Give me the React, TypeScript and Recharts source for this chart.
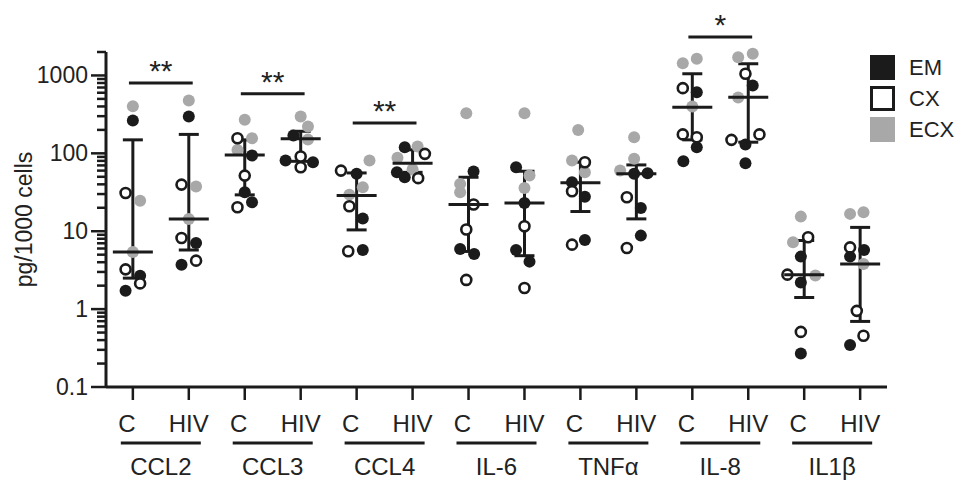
import { ScatterChart, Scatter, XAxis, YAxis, ErrorBar, ReferenceLine, Legend } from "recharts";

const groups = ["CCL2", "CCL3", "CCL4", "IL-6", "TNFα", "IL-8", "IL1β"];
const conditions = ["C", "HIV"];

// x = column (1..14, C/HIV per cytokine) plus the beeswarm offset, y = pg/1000 cells
const emPoints: [number, number][] = [
  [1, 264], [1.13, 2.69], [0.87, 1.72],
  [2, 297], [2.13, 7.07], [1.87, 3.72],
  [3.13, 93.7], [3, 31.6], [3.13, 23.5],
  [3.87, 169], [3.73, 80.8], [4.22, 76.9],
  [5, 54.5], [5.11, 14.6], [5.11, 5.75],
  [5.86, 120], [5.72, 57], [5.86, 49.3],
  [7.09, 58.4], [6.85, 5.92], [7.1, 5.1],
  [7.85, 66.3], [8, 23.1], [7.85, 5.75], [8.09, 4.07],
  [8.85, 42.5], [9.08, 27.8], [9.08, 7.73],
  [9.96, 54.5], [10.2, 55.5], [10.08, 19.9], [10.08, 8.78],
  [11.08, 610], [11.08, 120], [10.84, 79.2],
  [12.08, 744], [11.95, 130], [11.95, 74.6],
  [12.94, 4.72], [12.94, 2.2], [12.94, 0.27],
  [14.07, 5.75], [13.82, 4.72], [13.82, 0.345],
];

const cxPoints: [number, number][] = [
  [0.87, 31], [0.87, 3.24], [1.13, 2.14],
  [1.87, 39.7], [1.87, 8.2], [2.13, 4.19],
  [2.87, 156], [3, 51.8], [2.87, 20.3],
  [4, 91], [4, 66.3],
  [4.72, 60], [4.87, 20.9], [4.85, 5.52],
  [6.22, 98.5], [6.1, 48],
  [7.09, 22], [6.96, 10.5], [6.96, 2.37],
  [8, 11.6], [8, 1.87],
  [9.08, 76.9], [8.85, 32.6], [8.85, 6.72],
  [9.83, 27.3], [9.83, 6.1],
  [10.83, 687], [10.83, 175], [11.08, 161],
  [11.95, 1051], [11.7, 149], [12.2, 175],
  [13.07, 8.35], [12.7, 2.77], [12.94, 0.51],
  [13.82, 6.2], [13.94, 0.95], [14.06, 0.455],
];

const ecxPoints: [number, number][] = [
  [1, 403], [1.13, 24.7], [1, 5.4],
  [2, 477], [2.13, 37.4], [2, 14.4],
  [3, 269], [3.13, 156], [2.87, 110],
  [4, 297], [4.13, 221], [4.13, 150],
  [5.23, 80.7], [5.11, 36.7], [4.87, 29.5],
  [6.09, 122], [5.73, 87.5], [6, 62],
  [6.96, 328], [6.85, 40.5], [6.85, 31.6],
  [8, 328], [8.09, 51.9], [8, 36],
  [8.96, 200], [8.85, 80.7], [9.08, 57],
  [9.96, 161], [9.96, 85], [9.71, 60],
  [10.83, 1439], [11.08, 1638], [11, 400],
  [11.82, 1718], [12.08, 1900], [11.82, 520],
  [12.94, 15.4], [12.8, 7.2], [13.2, 2.7],
  [13.82, 16.7], [14.06, 17.5], [14.06, 3.8],
];

// median with interquartile range, one per column
const medians = [5.4, 14.4, 95.5, 154, 28.7, 74.6, 22, 23.1, 41.8, 54.5, 391, 526, 2.77, 3.8];
const lows = [2.5, 5.74, 29.3, 79, 10.4, 57, 5.5, 4.85, 17.9, 14.4, 149, 139, 1.41, 0.695];
const highs = [149, 175, 149, 192, 56, 111, 49.3, 58.9, 77, 71, 1051, 1413, 7.6, 11.2];

// significance: cytokine index, bar height, stars
const sigGroups = [0, 1, 2, 5];
const sigHeights = [800, 580, 246, 3120];
const sigLabels = ["**", "**", "**", "*"];

const majorTicks = [0.1, 1, 10, 100, 1000];
const minorSteps = [2, 3, 4, 5, 6, 7, 8, 9];

const BLACK = "#1b1b1b";
const GRAY = "#a8a8a8";
const FONT = "'Liberation Sans', Arial, sans-serif";

const toXY = (pts: [number, number][]) => pts.map(([x, y]) => ({ x, y }));

const summary = medians.map((m, i) => ({ x: i + 1, y: m, err: [m - lows[i], highs[i] - m] }));

const yTicks = [
  ...majorTicks,
  ...majorTicks.slice(0, 4).flatMap((d) => minorSteps.map((s) => +(d * s).toPrecision(3))),
  2000,
];

const colTicks = groups.flatMap((_, g) => [2 * g + 1, 2 * g + 2]);
const groupTicks = groups.map((_, g) => 2 * g + 1.5);

const YTick = ({ x, y, payload }: any) => {
  const v = payload.value;
  const major = majorTicks.includes(v);
  return (
    <g>
      <line x1={x - (major ? 15 : 9)} x2={x} y1={y} y2={y} stroke={BLACK} strokeWidth={2.5} />
      {major && (
        <text x={x - 18} y={y} dy={8} textAnchor="end" fontSize={23} fill="#222" fontFamily={FONT}>
          {v}
        </text>
      )}
    </g>
  );
};

const XTick = ({ x, y, payload }: any) => {
  const v = payload.value;
  if (Number.isInteger(v)) {
    const isC = v % 2 === 1;
    return (
      <g>
        <line x1={x} x2={x} y1={y} y2={y + 13} stroke={BLACK} strokeWidth={2.5} />
        <text x={isC ? x - 6 : x} y={y + 45} textAnchor="middle" fontSize={24} fill="#222" fontFamily={FONT}>
          {isC ? conditions[0] : conditions[1]}
        </text>
      </g>
    );
  }
  const name = groups[Math.floor(v / 2)];
  return (
    <g>
      <line x1={x - 40} x2={x + 40} y1={y + 56} y2={y + 56} stroke={BLACK} strokeWidth={3} />
      <text x={x} y={y + 88} textAnchor="middle" fontSize={24} fill="#222" fontFamily={FONT}>
        {name}
      </text>
    </g>
  );
};

const filledDot = (fill: string) => (p: any) => <circle cx={p.cx} cy={p.cy} r={6} fill={fill} />;
const openDot = (p: any) => (
  <circle cx={p.cx} cy={p.cy} r={5} fill="#fff" stroke={BLACK} strokeWidth={2.6} />
);
const medianLine = (p: any) => (
  <line x1={p.cx - 20} x2={p.cx + 20} y1={p.cy} y2={p.cy} stroke={BLACK} strokeWidth={3} />
);

const legendItems = [
  { name: "EM", fill: BLACK, border: BLACK },
  { name: "CX", fill: "#fff", border: BLACK },
  { name: "ECX", fill: GRAY, border: GRAY },
];

const renderLegend = () => (
  <div style={{ fontFamily: FONT }}>
    {legendItems.map((it) => (
      <div key={it.name} style={{ display: "flex", alignItems: "center", height: 25, marginBottom: 6 }}>
        <div
          style={{
            width: 25,
            height: 25,
            boxSizing: "border-box",
            background: it.fill,
            border: `3px solid ${it.border}`,
          }}
        />
        <span style={{ marginLeft: 14, fontSize: 22, color: "#222" }}>{it.name}</span>
      </div>
    ))}
  </div>
);

export default function App() {
  return (
    <div style={{ position: "absolute", left: 0, top: 0, background: "#fff", fontFamily: FONT }}>
      <ScatterChart width={964} height={481} margin={{ top: 52, right: 77, bottom: 0, left: 0 }}>
        <XAxis
          type="number"
          dataKey="x"
          domain={[0.52, 14.48]}
          ticks={[...colTicks, ...groupTicks]}
          interval={0}
          tick={<XTick />}
          tickLine={false}
          tickSize={0}
          tickMargin={0}
          height={94}
          axisLine={{ stroke: BLACK, strokeWidth: 3 }}
        />
        <YAxis
          type="number"
          dataKey="y"
          scale="log"
          domain={[0.1, 2000]}
          ticks={yTicks}
          interval={0}
          tick={<YTick />}
          tickLine={false}
          tickSize={0}
          tickMargin={0}
          width={106}
          axisLine={{ stroke: BLACK, strokeWidth: 3 }}
          label={{
            value: "pg/1000 cells",
            angle: -90,
            position: "insideLeft",
            offset: 24,
            style: { textAnchor: "middle", fontSize: 23, fill: "#222", fontFamily: FONT },
          }}
        />
        <Legend
          layout="vertical"
          align="center"
          verticalAlign="middle"
          wrapperStyle={{ left: 870, top: 55, width: 94 }}
          content={renderLegend}
        />
        <Scatter data={toXY(ecxPoints)} shape={filledDot(GRAY)} isAnimationActive={false} />
        <Scatter data={toXY(emPoints)} shape={filledDot(BLACK)} isAnimationActive={false} />
        <Scatter data={toXY(cxPoints)} shape={openDot} isAnimationActive={false} />
        <Scatter data={summary} shape={medianLine} isAnimationActive={false}>
          <ErrorBar dataKey="err" direction="y" width={10} stroke={BLACK} strokeWidth={3} isAnimationActive={false} />
        </Scatter>
        {sigGroups.map((g, i) => (
          <ReferenceLine
            key={g}
            segment={[
              { x: 2 * g + 1.5 - 0.57, y: sigHeights[i] },
              { x: 2 * g + 1.5 + 0.57, y: sigHeights[i] },
            ]}
            ifOverflow="visible"
            stroke={BLACK}
            strokeWidth={3}
            label={{ value: sigLabels[i], position: "top", offset: 2, fontSize: 30, fill: "#222", fontFamily: FONT }}
          />
        ))}
      </ScatterChart>
    </div>
  );
}
